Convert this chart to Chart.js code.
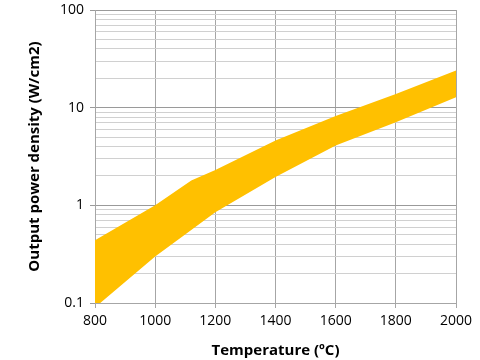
<!DOCTYPE html>
<html>
<head>
<meta charset="utf-8">
<script src="https://cdn.jsdelivr.net/npm/chart.js@4/dist/chart.umd.min.js"></script>
<style>
  html, body { margin: 0; padding: 0; background: #fff; }
  #wrap { width: 480px; height: 360px; }
</style>
</head>
<body>
<div id="wrap"><canvas id="chart" width="480" height="360"></canvas></div>
<script>
// temperatures (ºC) and band edges (W/cm2)
const temps = [800, 1000, 1120, 1200, 1400, 1600, 1800, 2000];
const lowerBand = [0.09, 0.3, 0.56, 0.85, 1.95, 4.1, 7.1, 12.8];
const upperBand = [0.44, 1.0, 1.8, 2.3, 4.6, 8.2, 13.8, 24];
const yTickLabels = [0.1, 1, 10, 100];

const fontFam = "'Open Sans', 'Liberation Sans', sans-serif";

const toPts = (ys) => temps.map((t, i) => ({ x: t, y: ys[i] }));

const ctx = document.getElementById("chart");
new Chart(ctx, {
  type: "line",
  data: {
    datasets: [
      {
        data: toPts(lowerBand),
        borderWidth: 0,
        pointRadius: 0,
        fill: false,
        clip: { left: 0, top: 0, right: 0, bottom: 6 },
      },
      {
        data: toPts(upperBand),
        borderWidth: 0,
        pointRadius: 0,
        backgroundColor: "#FFC000",
        fill: "-1",
        clip: { left: 0, top: 0, right: 0, bottom: 6 },
      },
    ],
  },
  options: {
    responsive: false,
    animation: false,
    layout: { padding: { left: 26, right: 24, top: 10, bottom: 0 } },
    plugins: {
      legend: { display: false },
      tooltip: { enabled: false },
    },
    scales: {
      x: {
        type: "linear",
        min: 800,
        max: 2000,
        ticks: {
          stepSize: 200,
          color: "#000",
          padding: 5,
          font: { family: fontFam, size: 14 },
          callback: (v) => String(v),
        },
        grid: { color: "#a6a6a6", tickLength: 5, tickColor: "#a6a6a6" },
        border: { color: "#a6a6a6" },
        title: {
          display: true,
          text: "Temperature (ºC)",
          color: "#000",
          font: { family: fontFam, size: 15, weight: "bold" },
          padding: { top: 0, bottom: 0 },
        },
        afterFit: (s) => { s.height = 57; },
      },
      y: {
        type: "logarithmic",
        min: 0.1,
        max: 100,
        afterBuildTicks: (s) => {
          // decade ticks plus minor 2..9 ticks for the grid
          const t = [];
          for (let d = 0; d < yTickLabels.length; d++) {
            const base = yTickLabels[d];
            t.push({ value: base, major: true });
            if (d < yTickLabels.length - 1) {
              for (let m = 2; m <= 9; m++) t.push({ value: +(base * m).toPrecision(3) });
            }
          }
          s.ticks = t;
        },
        ticks: {
          autoSkip: false,
          color: "#000",
          padding: 6,
          font: { family: fontFam, size: 14 },
          callback: (v) => (yTickLabels.includes(+v) ? String(+v) : ""),
        },
        grid: {
          color: (c) => (c.tick && yTickLabels.includes(+c.tick.value) ? "#9a9a9a" : "#d0d0d0"),
          tickColor: (c) => (c.tick && yTickLabels.includes(+c.tick.value) ? "#9a9a9a" : "rgba(0,0,0,0)"),
          tickLength: 5,
        },
        border: { color: "#a6a6a6" },
        title: {
          display: true,
          text: "Output power density (W/cm2)",
          color: "#000",
          font: { family: fontFam, size: 15, weight: "bold" },
          padding: { top: 0, bottom: 4 },
        },
        afterFit: (s) => { s.width = 69; s.paddingTop = 0; s.paddingBottom = 0; },
      },
    },
  },
});
</script>
</body>
</html>
